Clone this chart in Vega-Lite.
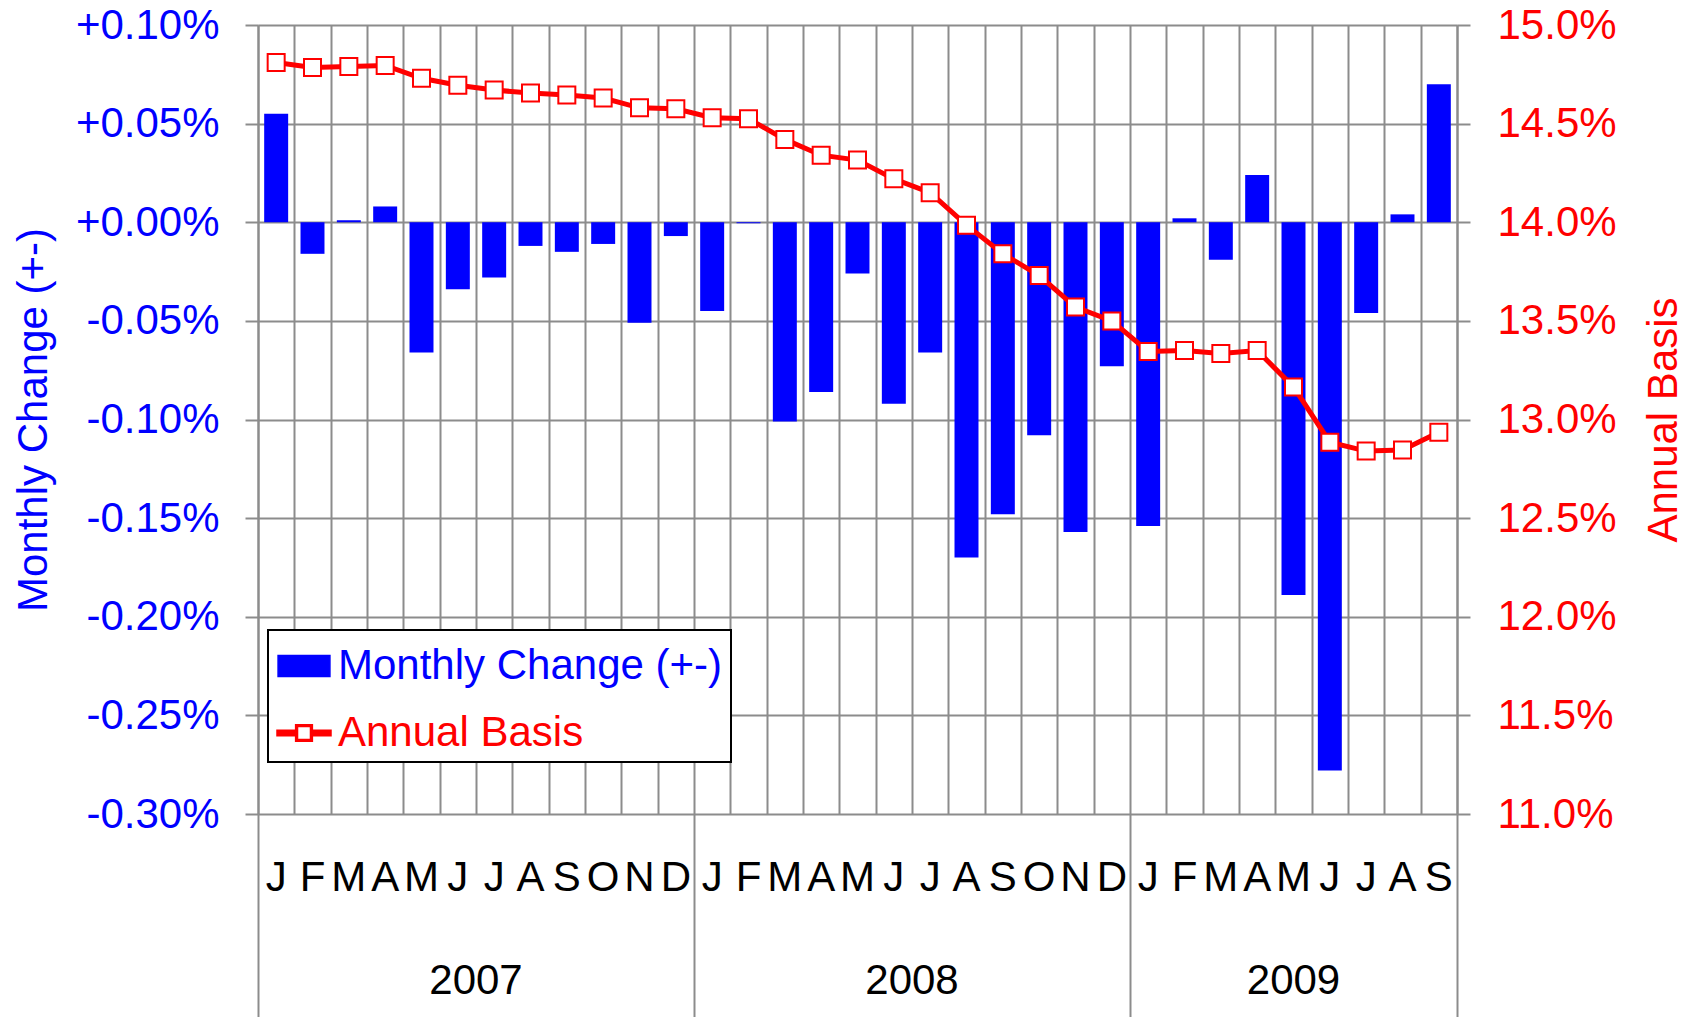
{
  "$schema": "https://vega.github.io/schema/vega-lite/v6.json",
  "width": 1199,
  "height": 789,
  "autosize": {"type": "none"},
  "padding": {"left": 258, "top": 25, "right": 237, "bottom": 203},
  "background": "white",
  "config": {
    "font": "Liberation Sans",
    "view": {"stroke": null},
    "axis": {"labelFont": "Liberation Sans", "titleFont": "Liberation Sans", "labelFontSize": 42, "titleFontSize": 42, "titleFontWeight": "normal"},
    "legend": {"labelFont": "Liberation Sans"}
  },
  "data": {
    "values": [
      {"month": "2007-01", "chg": 0.055, "annual": 14.81},
      {"month": "2007-02", "chg": -0.016, "annual": 14.785},
      {"month": "2007-03", "chg": 0.001, "annual": 14.79},
      {"month": "2007-04", "chg": 0.008, "annual": 14.795},
      {"month": "2007-05", "chg": -0.066, "annual": 14.73},
      {"month": "2007-06", "chg": -0.034, "annual": 14.695},
      {"month": "2007-07", "chg": -0.028, "annual": 14.67},
      {"month": "2007-08", "chg": -0.012, "annual": 14.655},
      {"month": "2007-09", "chg": -0.015, "annual": 14.645},
      {"month": "2007-10", "chg": -0.011, "annual": 14.63},
      {"month": "2007-11", "chg": -0.051, "annual": 14.58},
      {"month": "2007-12", "chg": -0.007, "annual": 14.575},
      {"month": "2008-01", "chg": -0.045, "annual": 14.53},
      {"month": "2008-02", "chg": -0.0005, "annual": 14.525},
      {"month": "2008-03", "chg": -0.101, "annual": 14.42},
      {"month": "2008-04", "chg": -0.086, "annual": 14.34},
      {"month": "2008-05", "chg": -0.026, "annual": 14.315},
      {"month": "2008-06", "chg": -0.092, "annual": 14.22},
      {"month": "2008-07", "chg": -0.066, "annual": 14.15},
      {"month": "2008-08", "chg": -0.170, "annual": 13.985},
      {"month": "2008-09", "chg": -0.148, "annual": 13.84},
      {"month": "2008-10", "chg": -0.108, "annual": 13.73},
      {"month": "2008-11", "chg": -0.157, "annual": 13.57},
      {"month": "2008-12", "chg": -0.073, "annual": 13.50},
      {"month": "2009-01", "chg": -0.154, "annual": 13.345},
      {"month": "2009-02", "chg": 0.002, "annual": 13.35},
      {"month": "2009-03", "chg": -0.019, "annual": 13.335},
      {"month": "2009-04", "chg": 0.024, "annual": 13.35},
      {"month": "2009-05", "chg": -0.189, "annual": 13.165},
      {"month": "2009-06", "chg": -0.278, "annual": 12.885},
      {"month": "2009-07", "chg": -0.046, "annual": 12.84},
      {"month": "2009-08", "chg": 0.004, "annual": 12.845},
      {"month": "2009-09", "chg": 0.070, "annual": 12.935}
    ]
  },
  "layer": [
    {
      "mark": {"type": "bar", "width": {"band": 0.66}},
      "encoding": {
        "x": {
          "field": "month", "type": "ordinal",
          "scale": {"type": "band", "paddingInner": 0, "paddingOuter": 0},
          "axis": {
            "orient": "bottom",
            "title": null, "labels": false, "domain": false,
            "grid": true, "gridColor": "#8c8c8c", "gridWidth": 2,
            "tickBand": "extent", "ticks": true, "tickColor": "#8c8c8c", "tickWidth": 2,
            "tickSize": {"condition": {"test": "datum.index < 0 || indexof(['2007-12','2008-12','2009-09'], datum.value) >= 0", "value": 210}, "value": 0}
          }
        },
        "y": {
          "field": "chg", "type": "quantitative",
          "scale": {"domain": [-0.3, 0.1], "nice": false, "zero": false},
          "axis": {
            "orient": "left",
            "title": "Monthly Change (+-)", "titleColor": "#0000FF", "titlePadding": 20,
            "titleAngle": 270, "titleBaseline": "bottom",
            "values": [-0.3, -0.25, -0.2, -0.15, -0.1, -0.05, 0, 0.05, 0.1],
            "labelExpr": "(datum.value < 0 ? '-' : '+') + format(abs(datum.value), '.2f') + '%'",
            "labelColor": "#0000FF", "labelPadding": 26, "labelOverlap": false,
            "grid": true, "gridColor": "#8c8c8c", "gridWidth": 2,
            "domain": true, "domainColor": "#8c8c8c", "domainWidth": 2,
            "ticks": true, "tickColor": "#8c8c8c", "tickWidth": 2, "tickSize": 13
          }
        },
        "color": {
          "datum": "Monthly Change (+-)", "type": "nominal",
          "scale": {"domain": ["Monthly Change (+-)", "Annual Basis"], "range": ["#0000FF", "#FF0000"]},
          "legend": {
            "orient": "none", "legendX": 10, "legendY": 605, "title": null,
            "direction": "vertical",
            "fillColor": "white", "strokeColor": "black", "padding": 8, "cornerRadius": 0,
            "symbolSize": 2916, "labelFontSize": 42, "labelOffset": 6, "rowPadding": 18, "labelLimit": 1000,
            "encoding": {
              "legend": {"strokeWidth": {"value": 2}},
              "symbols": {
                "shape": {"condition": {"test": "datum.value === 'Annual Basis'", "value": "M-1,-0.1H-0.31V0.1H-1Z M0.31,-0.1H1V0.1H0.31Z M-0.31,-0.31H0.31V0.31H-0.31Z M-0.24,-0.24V0.24H0.24V-0.24Z"}, "value": "M-0.96,-0.39H0.96V0.39H-0.96Z"},
                "fill": {"condition": {"test": "datum.value === 'Annual Basis'", "value": "#FF0000"}, "value": "#0000FF"},
                "stroke": {"value": "transparent"},
                "opacity": {"value": 1},
                "size": {"value": 2916}
              },
              "labels": {
                "fill": {"condition": {"test": "datum.value === 'Annual Basis'", "value": "#FF0000"}, "value": "#0000FF"}
              }
            }
          }
        }
      }
    },
    {
      "encoding": {
        "y": {
          "field": "annual", "type": "quantitative",
          "scale": {"domain": [11, 15], "nice": false, "zero": false},
          "axis": {
            "orient": "right",
            "title": "Annual Basis", "titleColor": "#FF0000", "titlePadding": 27,
            "titleAngle": 270, "titleBaseline": "top",
            "values": [11, 11.5, 12, 12.5, 13, 13.5, 14, 14.5, 15],
            "labelExpr": "format(datum.value, '.1f') + '%'",
            "labelColor": "#FF0000", "labelPadding": 27, "labelOverlap": false,
            "grid": false,
            "domain": true, "domainColor": "#8c8c8c", "domainWidth": 2,
            "ticks": true, "tickColor": "#8c8c8c", "tickWidth": 2, "tickSize": 13
          }
        },
        "color": {"datum": "Annual Basis", "type": "nominal"}
      },
      "layer": [
        {
          "mark": {"type": "line", "strokeWidth": 5},
          "encoding": {
            "x": {
              "field": "month", "type": "ordinal",
              "axis": {
                "orient": "bottom",
                "title": null, "ticks": false, "domain": false, "grid": false,
                "labelExpr": "substring('JFMAMJJASOND', toNumber(slice(datum.value, 5)) - 1, toNumber(slice(datum.value, 5)))",
                "labelColor": "black", "labelPadding": 63, "labelBaseline": "middle", "labelAngle": 0, "labelOverlap": false
              }
            }
          }
        },
        {
          "mark": {"type": "point", "shape": "square", "size": 289, "filled": false, "fill": "white", "strokeWidth": 2, "opacity": 1},
          "encoding": {
            "x": {
              "field": "month", "type": "ordinal",
              "axis": {
                "orient": "bottom",
                "title": null, "ticks": false, "domain": false, "grid": false,
                "values": ["2007-07", "2008-07", "2009-05"],
                "labelExpr": "slice(datum.value, 0, 4)",
                "labelOffset": {"condition": {"test": "datum.value === '2009-05'", "value": 0}, "value": -18.17},
                "labelColor": "black", "labelPadding": 166, "labelBaseline": "middle", "labelAngle": 0, "labelOverlap": false
              }
            }
          }
        }
      ],
      "resolve": {"axis": {"x": "independent"}}
    }
  ],
  "resolve": {"scale": {"y": "independent"}, "axis": {"x": "independent"}}
}
